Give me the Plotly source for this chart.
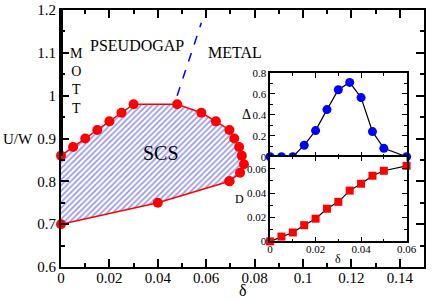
import plotly.graph_objects as go

# ---- data ----
upper_delta = [0, 0.005, 0.01, 0.015, 0.02, 0.025, 0.03, 0.048, 0.058, 0.064, 0.0696, 0.0716, 0.0736, 0.0747, 0.0756, 0.074, 0.0696]
upper_u     = [0.86, 0.88, 0.90, 0.92, 0.94, 0.96, 0.98, 0.98, 0.96, 0.94, 0.92, 0.90, 0.88, 0.86, 0.84, 0.82, 0.80]
lower_delta = [0.0696, 0.04, 0]
lower_u     = [0.80, 0.75, 0.70]

mott_delta = [0, 0]
mott_u = [0.86, 1.2]

crossover_delta = [0.048, 0.058]
crossover_u = [1.0, 1.17]

inset_delta = [0, 0.005, 0.01, 0.015, 0.02, 0.025, 0.03, 0.035, 0.04, 0.045, 0.05, 0.06]
gap_vals    = [0, 0, 0, 0.11, 0.25, 0.45, 0.64, 0.71, 0.565, 0.24, 0.08, 0]
d_delta     = [0, 0.005, 0.01, 0.015, 0.02, 0.025, 0.03, 0.035, 0.04, 0.045, 0.05, 0.06]
d_vals      = [0, 0.004, 0.0074, 0.0134, 0.0188, 0.027, 0.0327, 0.042, 0.0477, 0.0543, 0.0584, 0.0625]

main_xticks = [0, 0.02, 0.04, 0.06, 0.08, 0.1, 0.12, 0.14]
main_xlabels = ["0", "0.02", "0.04", "0.06", "0.08", "0.1", "0.12", "0.14"]
main_yticks = [0.6, 0.7, 0.8, 0.9, 1.0, 1.1, 1.2]
main_ylabels = ["0.6", "0.7", "0.8", "0.9", "1", "1.1", "1.2"]
inset_xticks = [0, 0.02, 0.04, 0.06]
inset_xlabels = ["0", "0.02", "0.04", "0.06"]
gap_ticks = [0, 0.2, 0.4, 0.6, 0.8]
gap_labels = ["0", "0.2", "0.4", "0.6", "0.8"]
d_ticks = [0, 0.02, 0.04, 0.06]
d_labels = ["0", "0.02", "0.04", "0.06"]

SERIF = "Liberation Serif"

fig = go.Figure()

# hatched SCS region
fig.add_trace(go.Scatter(
    x=upper_delta + lower_delta, y=upper_u + lower_u,
    mode="lines", fill="toself", line=dict(width=0, color="rgba(0,0,0,0)"),
    fillcolor="white",
    fillpattern=dict(shape="/", fgcolor="#2a2ae0", bgcolor="white", size=4, solidity=0.4),
    hoverinfo="skip", showlegend=False, xaxis="x", yaxis="y"))

# boundary line with markers
fig.add_trace(go.Scatter(
    x=upper_delta + lower_delta, y=upper_u + lower_u,
    mode="lines+markers", line=dict(color="red", width=1.5),
    marker=dict(color="red", size=10, symbol="circle"),
    cliponaxis=False, showlegend=False, xaxis="x", yaxis="y"))

# Mott line
fig.add_trace(go.Scatter(
    x=mott_delta, y=mott_u, mode="lines", line=dict(color="black", width=4),
    cliponaxis=False, showlegend=False, xaxis="x", yaxis="y"))

# crossover dashed line
fig.add_trace(go.Scatter(
    x=crossover_delta, y=crossover_u, mode="lines",
    line=dict(color="blue", width=1.5, dash="dash"),
    showlegend=False, xaxis="x", yaxis="y"))

# inset gap
fig.add_trace(go.Scatter(
    x=inset_delta, y=gap_vals, mode="lines+markers",
    line=dict(color="black", width=1.2),
    marker=dict(color="blue", size=9, symbol="circle"),
    cliponaxis=False, showlegend=False, xaxis="x2", yaxis="y2"))

# inset D
fig.add_trace(go.Scatter(
    x=d_delta, y=d_vals, mode="lines+markers",
    line=dict(color="black", width=1.2),
    marker=dict(color="red", size=8, symbol="square"),
    cliponaxis=False, showlegend=False, xaxis="x3", yaxis="y3"))

common = dict(showline=True, linecolor="black", mirror="allticks", ticks="inside",
              tickcolor="black", showgrid=False, zeroline=False)

fig.update_layout(
    width=436, height=301,
    margin=dict(l=61, r=2, t=6, b=34),
    paper_bgcolor="white", plot_bgcolor="white",
    font=dict(family=SERIF, color="black"),
    xaxis=dict(domain=[0, 1], range=[0, 0.15], tickvals=main_xticks, ticktext=main_xlabels,
               ticklen=8, tickwidth=1.5, linewidth=2, ticklabelstandoff=-4,
               minor=dict(dtick=0.01, tick0=0, ticks="inside", ticklen=4, tickcolor="black", tickwidth=1.5),
               tickfont=dict(size=15, family=SERIF), **common),
    yaxis=dict(domain=[0, 1], range=[0.6, 1.2], tickvals=main_yticks, ticktext=main_ylabels,
               ticklen=8, tickwidth=1.5, linewidth=2,
               minor=dict(dtick=0.05, tick0=0.6, ticks="inside", ticklen=4, tickcolor="black", tickwidth=1.5),
               tickfont=dict(size=15, family=SERIF), **common),
    xaxis2=dict(domain=[0.576, 0.952], anchor="y2", range=[0, 0.06], tickvals=inset_xticks,
                showticklabels=False, ticklen=5, tickwidth=1, linewidth=1.5,
                minor=dict(dtick=0.01, tick0=0, ticks="inside", ticklen=3, tickcolor="black"),
                **common),
    yaxis2=dict(domain=[0.429, 0.755], anchor="x2", range=[0, 0.8], tickvals=gap_ticks, ticktext=gap_labels,
                ticklen=5, tickwidth=1, linewidth=1.5,
                minor=dict(dtick=0.1, tick0=0, ticks="inside", ticklen=3, tickcolor="black"),
                tickfont=dict(size=11, family=SERIF), **common),
    xaxis3=dict(domain=[0.576, 0.952], anchor="y3", range=[0, 0.06], tickvals=inset_xticks, ticktext=inset_xlabels,
                ticklen=5, tickwidth=1, linewidth=1.5, ticklabelstandoff=-3,
                minor=dict(dtick=0.01, tick0=0, ticks="inside", ticklen=3, tickcolor="black"),
                tickfont=dict(size=11, family=SERIF), **common),
    yaxis3=dict(domain=[0.0996, 0.429], anchor="x3", range=[0, 0.07], tickvals=d_ticks, ticktext=d_labels,
                ticklen=5, tickwidth=1, linewidth=1.5,
                minor=dict(dtick=0.01, tick0=0, ticks="inside", ticklen=3, tickcolor="black"),
                tickfont=dict(size=11, family=SERIF), **common),
)

ann = [
    dict(text="PSEUDOGAP", x=0.0313, y=1.118, xref="x", yref="y", font=dict(size=16)),
    dict(text="METAL", x=0.0717, y=1.10, xref="x", yref="y", font=dict(size=16)),
    dict(text="SCS", x=0.0413, y=0.866, xref="x", yref="y", font=dict(size=20)),
    dict(text="M<br>O<br>T<br>T", x=0.0062, y=1.035, xref="x", yref="y", font=dict(size=14)),
    dict(text="U/W", x=(17 - 61) / 373.0, y=0.9, xref="paper", yref="y", font=dict(size=15)),
    dict(text="δ", x=0.075, y=(267 - 291) / 261.0, xref="x", yref="paper", font=dict(size=16)),
    dict(text="Δ", x=0.0, y=0.4, xref="x2", yref="y2", xshift=-24, font=dict(size=14)),
    dict(text="D", x=0.0, y=0.035, xref="x3", yref="y3", xshift=-31, font=dict(size=12)),
    dict(text="δ", x=0.03, y=(267 - 259) / 261.0, xref="x3", yref="paper", font=dict(size=12)),
]
for a in ann:
    a["showarrow"] = False
    a["xanchor"] = "center"
    a["yanchor"] = "middle"
    a["font"]["family"] = SERIF
    a["font"]["color"] = "black"
fig.update_layout(annotations=ann)

fig.write_html("out.html", config={"displayModeBar": False},
               post_script="document.body.style.margin='0';document.body.style.padding='0';")
